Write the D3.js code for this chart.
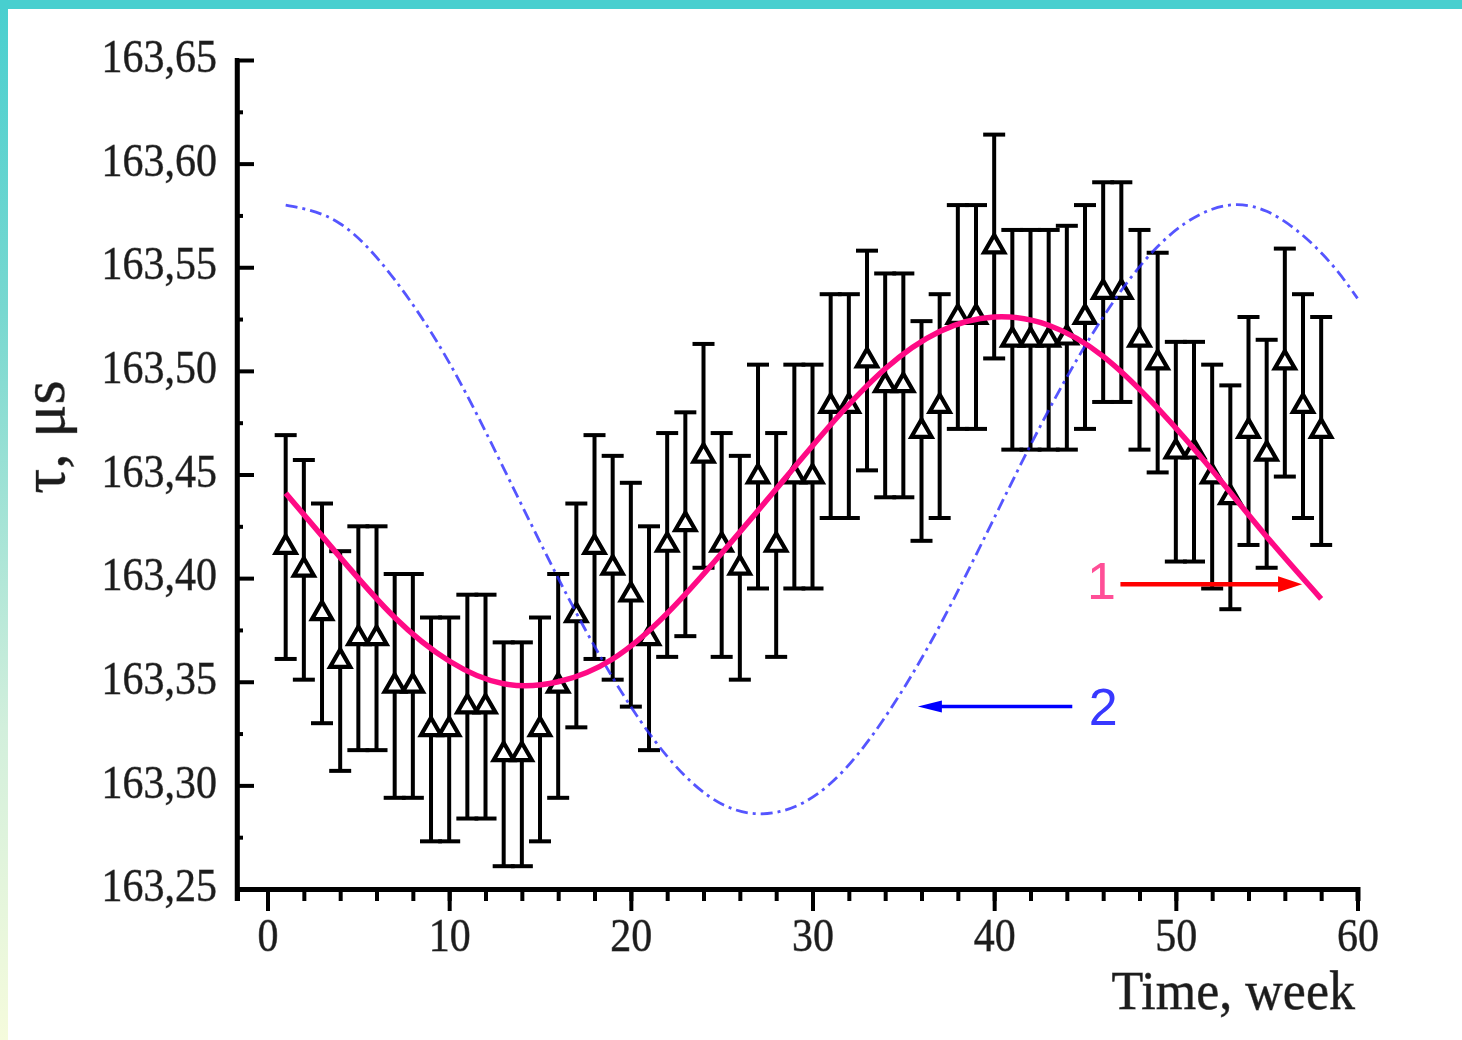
<!DOCTYPE html>
<html>
<head>
<meta charset="utf-8">
<script src="https://cdn.jsdelivr.net/npm/d3@7"></script>
<style>
  html, body { margin: 0; padding: 0; background: #ffffff; }
  svg { display: block; }
</style>
</head>
<body>
<script>
// ---------------- DATA ----------------
const weeks = [1,2,3,4,5,6,7,8,9,10,11,12,13,14,15,16,17,18,19,20,
               21,22,23,24,25,26,27,28,29,30,31,32,33,34,35,36,37,38,39,40,
               41,42,43,44,45,46,47,48,49,50,51,52,53,54,55,56,57,58];
const tau = [163.415,163.404,163.383,163.360,163.371,163.371,163.348,163.348,163.327,163.327,
             163.338,163.338,163.315,163.315,163.327,163.348,163.382,163.415,163.405,163.392,
             163.371,163.416,163.426,163.459,163.416,163.405,163.449,163.416,163.449,163.449,
             163.483,163.483,163.505,163.493,163.493,163.471,163.483,163.526,163.526,163.560,
             163.515,163.515,163.515,163.516,163.526,163.538,163.538,163.515,163.504,163.461,
             163.461,163.449,163.439,163.471,163.460,163.504,163.483,163.471];
const tauErr = [0.054,0.053,0.053,0.053,0.054,0.054,0.054,0.054,0.054,0.054,
                0.054,0.054,0.054,0.054,0.054,0.054,0.054,0.054,0.054,0.054,
                0.054,0.054,0.054,0.054,0.054,0.054,0.054,0.054,0.054,0.054,
                0.054,0.054,0.053,0.054,0.054,0.053,0.054,0.054,0.054,0.054,
                0.053,0.053,0.053,0.054,0.054,0.053,0.053,0.053,0.053,0.053,
                0.053,0.054,0.054,0.055,0.055,0.055,0.054,0.055];

// curve 1 (magenta fit)
const fit1Weeks = [1,4,7,10,13,16,19,22,25,28,31,34,37,40,43,46,49,52,55,58];
const fit1Tau   = [163.441,163.410,163.381,163.360,163.349,163.350,163.361,163.383,163.412,163.443,
                   163.474,163.501,163.519,163.526,163.522,163.507,163.482,163.452,163.420,163.390];

// curve 2 (blue dash-dot)
const fit2Weeks = [1,4,7,10,13,16,19,22,25,28,31,34,37,40,43,46,49,52,55,58,60];
const fit2Tau   = [163.580,163.571,163.544,163.504,163.453,163.400,163.352,163.314,163.291,163.287,
                   163.301,163.333,163.377,163.429,163.481,163.526,163.560,163.578,163.577,163.557,163.535];

const xMajorTicks = [0,10,20,30,40,50,60];
const xMinorTicks = [0,2,4,6,8,10,12,14,16,18,20,22,24,26,28,30,32,34,36,38,40,42,44,46,48,50,52,54,56,58,60];
const yMajorTicks = [163.25,163.30,163.35,163.40,163.45,163.50,163.55,163.60,163.65];
const yMinorTicks = [163.275,163.325,163.375,163.425,163.475,163.525,163.575,163.625];

const xLabel = "Time, week";
const yLabel = "\u03C4, \u03BCs";

// ---------------- SETUP ----------------
const W = 1462, H = 1040;
const svg = d3.select("body").append("svg").attr("width", W).attr("height", H);

const defs = svg.append("defs");
const grad = defs.append("linearGradient").attr("id", "lband")
  .attr("x1", 0).attr("y1", 0).attr("x2", 0).attr("y2", 1);
[["0", "#48cfcf"], ["0.3", "#78d8d0"], ["0.7", "#d2efdc"], ["1", "#f5fbdc"]]
  .forEach(([o, c]) => grad.append("stop").attr("offset", o).attr("stop-color", c));
const blur = defs.append("filter").attr("id", "soft").attr("x", "-10%").attr("y", "-10%")
  .attr("width", "120%").attr("height", "120%");
blur.append("feGaussianBlur").attr("stdDeviation", 0.7);

// frame
svg.append("rect").attr("x", 0).attr("y", 0).attr("width", W).attr("height", H).attr("fill", "#fff");
svg.append("rect").attr("x", 0).attr("y", 0).attr("width", 8).attr("height", H).attr("fill", "url(#lband)");
svg.append("rect").attr("x", 0).attr("y", 0).attr("width", W).attr("height", 9).attr("fill", "#48cfcf");

const x = d3.scaleLinear().domain([-1.68, 60]).range([237, 1357.5]);
const y = d3.scaleLinear().domain([163.25, 163.65]).range([889, 60]);

const serif = "'Liberation Serif', 'Times New Roman', 'DejaVu Serif', serif";
const fmt = d => d3.format(".2f")(d).replace(".", ",");

// ---------------- AXES ----------------
const gxMinor = svg.append("g").attr("transform", `translate(0,${y(163.25)})`)
  .call(d3.axisBottom(x).tickValues(xMinorTicks).tickSize(12).tickSizeOuter(12).tickFormat(""));
const gxMajor = svg.append("g").attr("transform", `translate(0,${y(163.25)})`)
  .call(d3.axisBottom(x).tickValues(xMajorTicks).tickSize(22).tickSizeOuter(0).tickPadding(4).tickFormat(d3.format("d")));

const gyMinor = svg.append("g").attr("transform", `translate(${x(-1.68)},0)`)
  .call(d3.axisLeft(y).tickValues(yMinorTicks).tickSize(-6).tickSizeOuter(0).tickFormat(""));
const gyMajor = svg.append("g").attr("transform", `translate(${x(-1.68)},0)`)
  .call(d3.axisLeft(y).tickValues(yMajorTicks).tickSize(-17).tickSizeOuter(0).tickPadding(20).tickFormat(fmt));

[gxMinor, gxMajor].forEach(g => {
  g.select(".domain").attr("stroke", "#000").attr("stroke-width", 5);
  g.selectAll(".tick line").attr("stroke", "#000").attr("stroke-width", 4);
});
[gyMinor, gyMajor].forEach(g => {
  g.select(".domain").attr("stroke", "#000").attr("stroke-width", 4.5);
  g.selectAll(".tick line").attr("stroke", "#000").attr("stroke-width", 4);
});
gyMajor.select(".domain").attr("d", `M0,${y(163.65) - 2}V${y(163.25) + 12}`);

function styleLabel(sel) {
  sel.attr("font-family", serif).attr("font-size", 42).attr("fill", "#1e1e1e")
    .attr("stroke", "#1e1e1e").attr("stroke-width", 0.7).attr("stroke-opacity", 0.6)
    .attr("filter", "url(#soft)");
}
gxMajor.selectAll(".tick text").call(styleLabel).attr("transform", "scale(1,1.11)");
gyMajor.selectAll(".tick text").call(styleLabel).attr("dy", "0.25em").attr("transform", "scale(1,1.11)");

// axis titles
svg.append("text")
  .attr("x", 1355).attr("y", 1009 / 1.075)
  .attr("transform", "scale(1,1.075)")
  .attr("text-anchor", "end")
  .attr("font-family", serif).attr("font-size", 52).attr("fill", "#1e1e1e")
  .attr("stroke", "#1e1e1e").attr("stroke-width", 0.7).attr("stroke-opacity", 0.6)
  .attr("filter", "url(#soft)")
  .text(xLabel);

svg.append("text")
  .attr("transform", "translate(64,437) rotate(-90)")
  .attr("text-anchor", "middle")
  .attr("font-family", serif).attr("font-size", 62).attr("fill", "#1e1e1e")
  .attr("stroke", "#1e1e1e").attr("stroke-width", 0.7).attr("stroke-opacity", 0.6)
  .attr("filter", "url(#soft)")
  .text(yLabel);

// ---------------- DATA MARKS ----------------
const pts = weeks.map((w, i) => ({ w, v: tau[i], e: tauErr[i] }));
const capHalf = 11;

const gErr = svg.append("g").attr("stroke", "#000").attr("stroke-width", 4).attr("fill", "none");
gErr.selectAll("line.v").data(pts).join("line").attr("class", "v")
  .attr("x1", d => x(d.w)).attr("x2", d => x(d.w))
  .attr("y1", d => y(d.v + d.e)).attr("y2", d => y(d.v - d.e));
gErr.selectAll("line.t").data(pts).join("line").attr("class", "t")
  .attr("x1", d => x(d.w) - capHalf).attr("x2", d => x(d.w) + capHalf)
  .attr("y1", d => y(d.v + d.e)).attr("y2", d => y(d.v + d.e));
gErr.selectAll("line.b").data(pts).join("line").attr("class", "b")
  .attr("x1", d => x(d.w) - capHalf).attr("x2", d => x(d.w) + capHalf)
  .attr("y1", d => y(d.v - d.e)).attr("y2", d => y(d.v - d.e));

const tri = d3.symbol().type(d3.symbolTriangle).size(175);
svg.append("g").selectAll("path").data(pts).join("path")
  .attr("d", tri)
  .attr("transform", d => `translate(${x(d.w)},${y(d.v)})`)
  .attr("fill", "#fff").attr("stroke", "#000").attr("stroke-width", 4.2)
  .attr("stroke-linejoin", "miter");

// blue curve (2)
const line = d3.line().x(d => x(d[0])).y(d => y(d[1])).curve(d3.curveNatural);
svg.append("path")
  .datum(fit2Weeks.map((w, i) => [w, fit2Tau[i]]))
  .attr("d", line)
  .attr("fill", "none").attr("stroke", "#2a2aff").attr("stroke-opacity", 0.8)
  .attr("stroke-width", 2.8).attr("stroke-dasharray", "12,5,3,5");

// magenta curve (1)
svg.append("path")
  .datum(fit1Weeks.map((w, i) => [w, fit1Tau[i]]))
  .attr("d", line)
  .attr("fill", "none").attr("stroke", "#ff0a85").attr("stroke-width", 5.5)
  .attr("stroke-linecap", "butt");

// ---------------- ANNOTATIONS ----------------
const sans = "'Liberation Sans', Arial, sans-serif";
svg.append("text").attr("x", x(45.9)).attr("y", y(163.390))
  .attr("text-anchor", "middle").attr("font-family", sans).attr("font-size", 52)
  .attr("fill", "#ff4f97").text("1");
const a1y = y(163.397), a1x0 = x(46.95), a1x1 = x(56.95);
svg.append("line").attr("x1", a1x0).attr("x2", a1x1 - 10).attr("y1", a1y).attr("y2", a1y)
  .attr("stroke", "#ff0000").attr("stroke-width", 4.5);
svg.append("path")
  .attr("d", `M${a1x1},${a1y}L${a1x1 - 24},${a1y - 8}L${a1x1 - 24},${a1y + 8}Z`)
  .attr("fill", "#ff0000");

svg.append("text").attr("x", x(46.0)).attr("y", y(163.329))
  .attr("text-anchor", "middle").attr("font-family", sans).attr("font-size", 52)
  .attr("fill", "#3838ff").text("2");
const a2y = y(163.338), a2x0 = x(44.3), a2x1 = x(35.8);
svg.append("line").attr("x1", a2x0).attr("x2", a2x1 + 10).attr("y1", a2y).attr("y2", a2y)
  .attr("stroke", "#0000ff").attr("stroke-width", 3.5);
svg.append("path")
  .attr("d", `M${a2x1},${a2y}L${a2x1 + 24},${a2y - 6}L${a2x1 + 24},${a2y + 6}Z`)
  .attr("fill", "#0000ff");
</script>
</body>
</html>
